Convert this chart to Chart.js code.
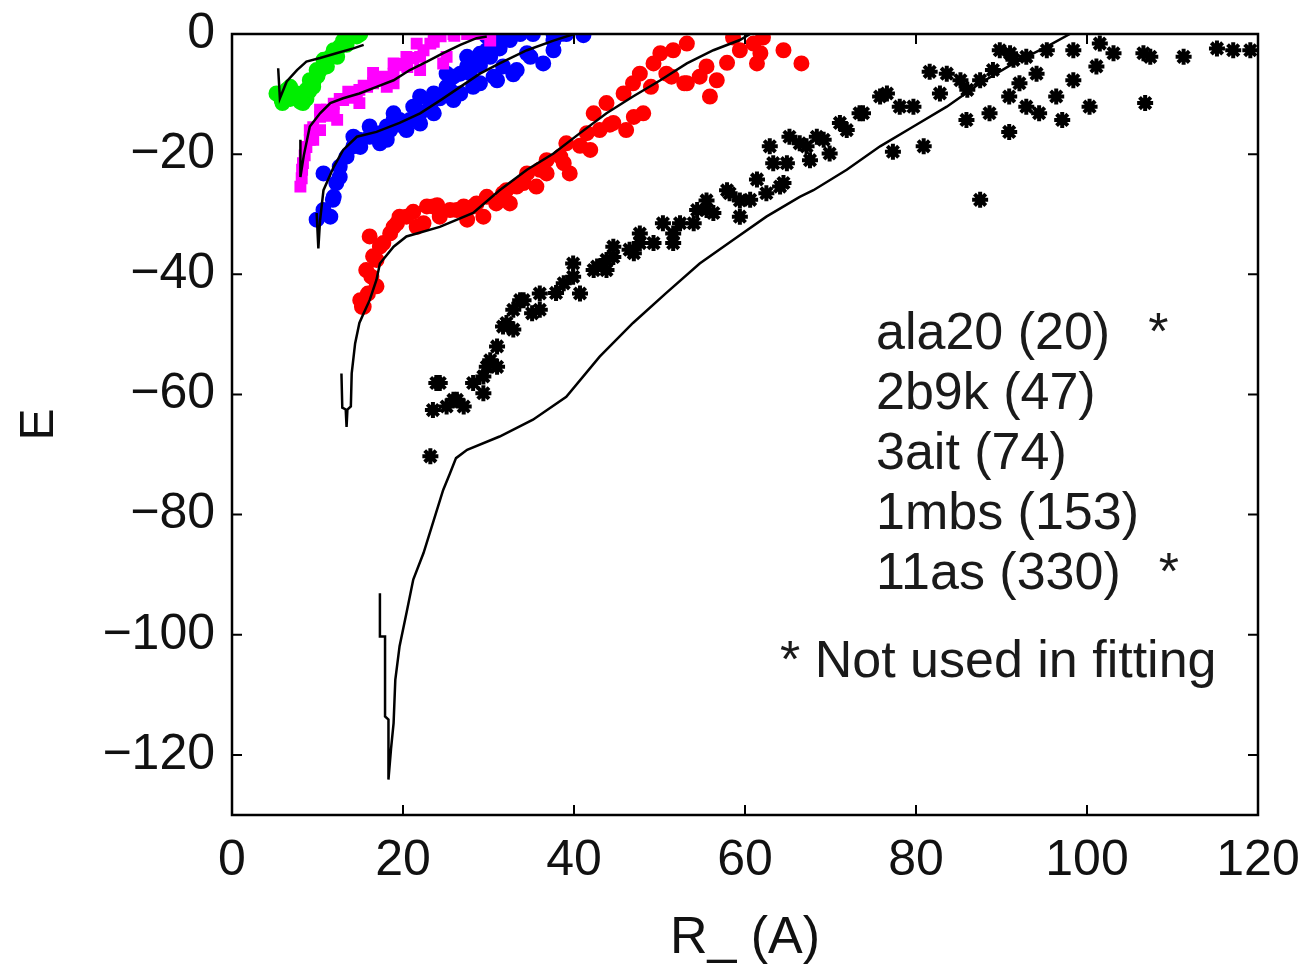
<!DOCTYPE html>
<html>
<head>
<meta charset="utf-8">
<script src="https://cdn.jsdelivr.net/npm/chart.js@4.4.0/dist/chart.umd.min.js"></script>
<style>
  html, body { margin: 0; padding: 0; background: #fff; }
  #wrap { width: 1305px; height: 972px; }
</style>
</head>
<body>
<div id="wrap"><canvas id="energyChart"></canvas></div>
<script>
// axis ticks
const xTickValues = [0, 20, 40, 60, 80, 100, 120];
const yTickValues = [0, -20, -40, -60, -80, -100, -120];

// annotation text
const legendLabels = ['ala20 (20)', '2b9k (47)', '3ait (74)', '1mbs (153)', '11as (330)'];
const legendStars = [true, false, false, false, true];
const footnote = '* Not used in fitting';

// [R, E] pairs
const points_ala20 = [[5.2,-9.9],[5.8,-11.0],[5.9,-11.5],[6.4,-9.3],[6.8,-10.8],[6.8,-8.8],[7.2,-10.4],[7.6,-9.9],[8.0,-11.3],[8.3,-11.5],[8.3,-10.0],[8.7,-10.8],[8.7,-9.3],[9.0,-9.6],[9.1,-7.7],[9.5,-8.8],[9.5,-8.2],[9.9,-6.0],[10.0,-7.0],[10.3,-6.0],[10.7,-4.3],[11.0,-5.0],[11.1,-5.4],[11.5,-3.8],[11.9,-2.7],[12.2,-3.2],[12.3,-3.8],[12.6,-2.1],[13.0,-1.1],[13.4,-1.8],[13.8,0],[13.8,-0.4],[14.2,0.1],[14.6,-0.4],[15.0,0]];
const fit_ala20 = [[5.4,-5.7],[5.6,-10.7],[6.4,-7.9],[7.6,-6.0],[8.7,-4.6],[10.3,-4.0],[12.2,-3.2],[14.2,-2.4],[15.4,-1.8]];

const points_2b9k = [[8.0,-25.4],[8.15,-24.0],[8.2,-22.6],[8.3,-21.5],[8.5,-20.2],[8.7,-18.8],[9.1,-17.6],[9.1,-16.0],[9.5,-17.6],[9.5,-15.5],[10.3,-13.8],[10.3,-16.0],[10.3,-12.6],[11.1,-12.6],[11.1,-13.6],[11.9,-13.2],[11.9,-11.6],[12.3,-14.3],[12.6,-10.8],[13.0,-11.0],[13.6,-9.6],[14.2,-10.6],[14.6,-10.4],[14.9,-11.5],[14.9,-9.3],[15.4,-8.6],[15.8,-8.8],[16.5,-8.2],[16.5,-6.5],[17.3,-7.7],[17.7,-7.1],[18.1,-8.8],[18.9,-6.6],[18.9,-8.2],[18.9,-4.9],[19.5,-5.0],[20.0,-5.2],[20.5,-5.5],[20.4,-3.8],[21.2,-4.0],[21.6,-1.6],[22.0,-3.8],[22.0,-6.0],[22.4,-2.7],[23.2,-1.6],[23.6,-1.3],[23.6,0],[24.4,-0.4],[24.7,-4.9],[25.1,-3.8],[25.9,0],[26.0,-0.3],[27.5,0],[28.7,0],[29.1,0],[30.2,-1.1]];
const fit_2b9k = [[8.0,-17.6],[8.0,-23.8],[8.4,-20.2],[9.1,-15.4],[10.3,-13.2],[11.5,-11.5],[13.0,-10.7],[14.9,-9.9],[16.9,-8.8],[18.9,-7.7],[20.8,-6.0],[22.8,-4.6],[24.7,-3.2],[26.7,-1.8],[28.6,-0.7],[29.8,-0.4]];

const points_3ait = [[9.9,-30.9],[10.7,-23.2],[10.7,-29.3],[11.5,-30.4],[11.8,-27.6],[11.9,-27.1],[12.2,-24.8],[12.6,-23.8],[12.6,-22.1],[13.4,-20.4],[14.2,-18.7],[14.2,-17.1],[14.6,-18.2],[15.0,-18.8],[14.9,-17.6],[16.1,-17.1],[16.1,-15.4],[17.3,-16.5],[17.3,-18.2],[18.1,-15.4],[18.1,-17.6],[18.5,-16.0],[18.9,-14.3],[18.9,-13.2],[19.6,-14.3],[19.6,-15.1],[20.4,-16.0],[20.8,-14.3],[21.2,-12.1],[21.6,-12.6],[22.0,-13.2],[22.0,-10.4],[22.0,-14.9],[23.2,-12.1],[23.6,-9.9],[23.6,-10.4],[23.6,-13.2],[24.3,-10.7],[25.1,-8.8],[25.1,-6.6],[25.5,-9.3],[25.9,-11.0],[25.9,-7.1],[26.7,-6.6],[26.7,-9.9],[27.5,-3.8],[27.5,-5.4],[27.8,-6.5],[28.2,-4.9],[28.2,-8.8],[29.0,-5.2],[29.0,-8.2],[29.0,-3.3],[29.8,-2.7],[29.8,-0.4],[30.2,-3.8],[30.6,-7.1],[30.6,-1.6],[31.0,-7.7],[31.3,-1.1],[31.3,-2.4],[31.7,-5.4],[32.1,0],[32.5,-1.0],[32.9,-6.7],[32.9,0],[33.3,-6.0],[33.7,0],[34.5,-3.2],[34.9,-3.8],[35.2,0],[36.4,-4.9],[37.6,-1.1],[37.6,-2.7],[37.6,0],[38.4,0],[39.1,0],[41.1,-0.2]];
const fit_3ait = [[9.9,-29.8],[10.1,-35.7],[10.3,-31.0],[10.7,-26.0],[11.9,-22.1],[13.0,-19.3],[14.6,-17.1],[16.9,-16.3],[19.6,-14.8],[22.0,-13.2],[24.4,-11.0],[26.7,-8.8],[29.0,-6.6],[31.3,-4.9],[34.5,-2.7],[37.6,-1.1],[40.0,0]];

const points_1mbs = [[15.2,-45.4],[15.0,-44.3],[15.4,-45.4],[15.9,-43.2],[16.9,-42.0],[15.7,-39.3],[16.3,-40.4],[16.5,-37.0],[16.9,-37.6],[17.3,-35.4],[16.1,-33.7],[17.7,-34.8],[18.5,-33.2],[18.9,-32.1],[19.3,-31.5],[19.6,-30.4],[20.4,-30.4],[21.2,-29.6],[21.6,-32.1],[22.4,-31.5],[22.8,-28.7],[23.5,-28.7],[24.0,-28.5],[24.3,-30.4],[25.5,-29.3],[26.3,-29.3],[27.1,-28.7],[27.5,-30.9],[28.2,-28.7],[28.6,-28.2],[29.4,-30.4],[29.8,-27.1],[30.9,-28.2],[31.7,-26.5],[32.1,-26.0],[32.5,-28.2],[33.3,-25.4],[34.1,-24.8],[34.5,-23.2],[35.6,-25.4],[36.0,-22.6],[36.8,-21.0],[36.8,-23.2],[38.4,-20.4],[38.8,-21.5],[39.1,-18.2],[39.5,-23.2],[40.7,-18.6],[41.5,-16.5],[41.9,-19.3],[42.3,-13.2],[43.0,-16.0],[43.8,-11.5],[44.2,-15.1],[44.6,-14.8],[45.8,-9.9],[46.1,-16.0],[46.9,-8.2],[47.0,-13.8],[47.7,-6.6],[48.1,-13.2],[49.0,-8.8],[49.3,-4.9],[50.1,-3.2],[50.8,-6.6],[51.4,-7.1],[51.6,-2.7],[52.9,-8.2],[53.2,-1.6],[53.2,-8.2],[54.7,-7.1],[55.5,-5.4],[55.9,-10.4],[56.7,-7.7],[57.9,-4.8],[58.6,-0.6],[59.4,-2.7],[61.0,-1.6],[61.4,-4.9],[61.8,-3.2],[62.1,-0.6],[64.5,-2.7],[66.6,-4.9]];
const fit_1mbs = [[12.8,-56.5],[12.9,-62.2],[13.3,-62.5],[13.4,-65.4],[13.5,-62.5],[13.9,-62.0],[14.0,-56.5],[14.4,-51.5],[14.9,-48.1],[15.4,-46.5],[16.1,-44.3],[16.9,-40.9],[17.3,-38.2],[18.9,-35.4],[20.4,-33.7],[24.3,-32.1],[28.2,-29.8],[31.3,-26.0],[34.5,-22.6],[37.6,-19.9],[40.7,-16.5],[43.8,-13.2],[46.9,-10.4],[50.1,-7.7],[53.2,-4.9],[56.3,-2.7],[59.4,-1.0],[60.6,0]];

const points_11as = [[23.2,-70.3],[23.5,-62.6],[23.9,-58.1],[24.3,-58.1],[25.1,-62.0],[25.9,-60.9],[26.3,-60.9],[27.1,-62.0],[28.2,-58.1],[29.4,-59.8],[29.4,-57.0],[29.8,-55.4],[30.2,-54.3],[31.0,-55.4],[31.0,-52.0],[31.7,-48.7],[32.1,-48.1],[32.9,-49.2],[32.9,-45.9],[33.7,-44.3],[34.1,-44.3],[35.1,-46.5],[36.0,-45.9],[36.0,-43.2],[37.9,-43.1],[38.8,-41.5],[39.9,-40.4],[39.9,-38.2],[40.7,-43.2],[42.3,-39.3],[42.7,-38.7],[43.8,-37.6],[43.8,-39.3],[44.6,-37.1],[44.6,-35.4],[46.5,-35.9],[47.0,-36.5],[47.7,-33.2],[47.7,-34.8],[49.3,-34.8],[50.4,-31.5],[51.6,-33.2],[51.6,-34.8],[52.4,-31.5],[54.0,-31.5],[54.4,-29.3],[55.5,-27.7],[55.5,-29.3],[56.3,-29.8],[57.9,-26.0],[58.2,-26.5],[59.4,-27.7],[59.4,-30.4],[60.6,-27.6],[61.4,-24.2],[62.5,-26.5],[62.9,-18.7],[63.3,-21.5],[64.1,-25.4],[64.5,-24.8],[64.9,-21.5],[65.2,-17.1],[66.4,-18.2],[67.2,-18.7],[67.6,-21.0],[68.4,-17.1],[69.2,-17.6],[69.9,-19.9],[71.1,-14.8],[71.9,-16.0],[73.4,-13.2],[73.8,-13.2],[75.8,-10.4],[76.6,-9.9],[77.3,-19.6],[78.1,-12.1],[79.7,-12.1],[80.9,-18.7],[81.6,-6.3],[82.8,-9.9],[83.6,-6.6],[85.2,-7.7],[85.9,-14.3],[86.0,-9.3],[87.5,-7.7],[87.5,-27.6],[88.6,-13.2],[89.0,-6.0],[89.8,-2.7],[90.9,-10.4],[90.9,-16.3],[91.0,-3.2],[91.4,-4.3],[92.1,-8.2],[92.9,-3.8],[92.9,-12.1],[94.1,-6.6],[94.4,-13.2],[95.3,-2.7],[96.4,-10.4],[97.1,-14.3],[98.4,-2.7],[98.4,-7.7],[100.3,-12.1],[101.1,-5.4],[101.5,-1.6],[103.1,-3.2],[106.6,-3.2],[106.8,-11.5],[107.4,-3.8],[111.3,-3.8],[115.2,-2.4],[117.1,-2.7],[119.1,-2.7]];
const fit_11as = [[17.3,-93.1],[17.3,-100.3],[17.9,-100.3],[17.9,-113.6],[18.3,-114.1],[18.3,-124.1],[18.6,-119.0],[18.9,-114.7],[19.1,-107.5],[19.6,-101.9],[20.4,-96.4],[21.2,-90.8],[22.4,-86.4],[23.6,-80.9],[24.7,-75.9],[25.5,-73.1],[26.2,-70.6],[27.5,-69.2],[31.3,-67.0],[35.2,-64.2],[39.1,-60.4],[43.0,-53.7],[46.9,-48.1],[50.8,-43.1],[54.7,-38.2],[58.6,-34.3],[62.5,-30.4],[66.4,-27.1],[68.0,-26.0],[71.9,-22.6],[75.8,-18.7],[79.7,-15.4],[83.6,-12.1],[87.5,-8.2],[91.4,-4.9],[95.3,-2.1],[98.0,0]];

const toXY = (arr) => arr.map(([x, y]) => ({ x, y }));

const REG = '"Liberation Sans", Arial, sans-serif';

const fitLine = (data) => ({
    data: toXY(data),
    showLine: true,
    borderColor: '#000',
    borderWidth: 2.5,
    pointRadius: 0,
    tension: 0,
    order: 0
});

const pointSet = (data, color, style, radius, width) => ({
    data: toXY(data),
    showLine: false,
    pointStyle: style,
    pointRadius: radius,
    backgroundColor: color,
    borderColor: color,
    borderWidth: width,
    order: 1
});

// frame, inward ticks and the text block on the right
const framePlugin = {
    id: 'frame',
    afterDraw(chart) {
        const { ctx, chartArea: a, scales: { x, y } } = chart;
        ctx.save();
        ctx.strokeStyle = '#000';
        ctx.lineWidth = 2.5;
        ctx.strokeRect(a.left, a.top, a.right - a.left, a.bottom - a.top);
        ctx.lineWidth = 2;
        ctx.beginPath();
        x.ticks.forEach(t => {
            const px = x.getPixelForValue(t.value);
            ctx.moveTo(px, a.bottom); ctx.lineTo(px, a.bottom - 10);
            ctx.moveTo(px, a.top); ctx.lineTo(px, a.top + 10);
        });
        y.ticks.forEach(t => {
            const py = y.getPixelForValue(t.value);
            ctx.moveTo(a.left, py); ctx.lineTo(a.left + 10, py);
            ctx.moveTo(a.right, py); ctx.lineTo(a.right - 10, py);
        });
        ctx.stroke();

        ctx.fillStyle = '#1a1a1a';
        ctx.font = '52px ' + REG;
        ctx.textBaseline = 'middle';
        ctx.textAlign = 'left';
        const tx = a.left + 644;
        legendLabels.forEach((s, i) => {
            const ty = a.top + 301 + i * 60;
            ctx.fillText(s, tx, ty);
            if (legendStars[i]) ctx.fillText('*', tx + ctx.measureText(s).width + 38, ty);
        });
        ctx.fillText(footnote, a.left + 548, a.top + 629);
        ctx.restore();
    }
};

const ctx = document.querySelector('#energyChart').getContext('2d');
new Chart(ctx, {
    type: 'scatter',
    data: {
        datasets: [
            fitLine(fit_ala20),
            fitLine(fit_2b9k),
            fitLine(fit_3ait),
            fitLine(fit_1mbs),
            fitLine(fit_11as),
            pointSet(points_ala20, '#00ee00', 'circle', 7, 2),
            pointSet(points_2b9k, '#ff00ff', 'rect', 7, 2),
            pointSet(points_3ait, '#0000ff', 'circle', 7, 2),
            pointSet(points_1mbs, '#ff0000', 'circle', 7, 2),
            pointSet(points_11as, '#000000', 'star', 8, 4)
        ]
    },
    options: {
        responsive: true,
        maintainAspectRatio: false,
        animation: false,
        layout: { padding: { left: 0, right: 47, top: 34, bottom: 0 } },
        plugins: { legend: { display: false }, tooltip: { enabled: false } },
        scales: {
            x: {
                type: 'linear',
                min: 0,
                max: 120,
                afterBuildTicks: (s) => { s.ticks = xTickValues.map(v => ({ value: v })); },
                afterFit: (s) => { s.height = 157; s.paddingLeft = 0; s.paddingRight = 0; },
                grid: { display: false, drawTicks: false },
                border: { display: false },
                ticks: { font: { family: REG, size: 50 }, color: '#111', padding: 16, maxRotation: 0, autoSkip: false },
                title: { display: true, text: 'R_ (A)', color: '#111', font: { family: REG, size: 52 }, padding: { top: 0, bottom: 2 } }
            },
            y: {
                type: 'linear',
                min: -130,
                max: 0,
                afterBuildTicks: (s) => { s.ticks = yTickValues.map(v => ({ value: v })); },
                afterFit: (s) => { s.width = 232; s.paddingTop = 0; s.paddingBottom = 0; },
                grid: { display: false, drawTicks: false },
                border: { display: false },
                ticks: {
                    font: { family: REG, size: 50 },
                    color: '#111',
                    padding: 17,
                    autoSkip: false,
                    callback: (v) => v < 0 ? '\u2212' + Math.abs(v) : String(v)
                },
                title: { display: true, text: 'E', color: '#111', font: { family: REG, size: 48 }, padding: { top: 11, bottom: 0 } }
            }
        }
    },
    plugins: [framePlugin]
});
</script>
</body>
</html>
